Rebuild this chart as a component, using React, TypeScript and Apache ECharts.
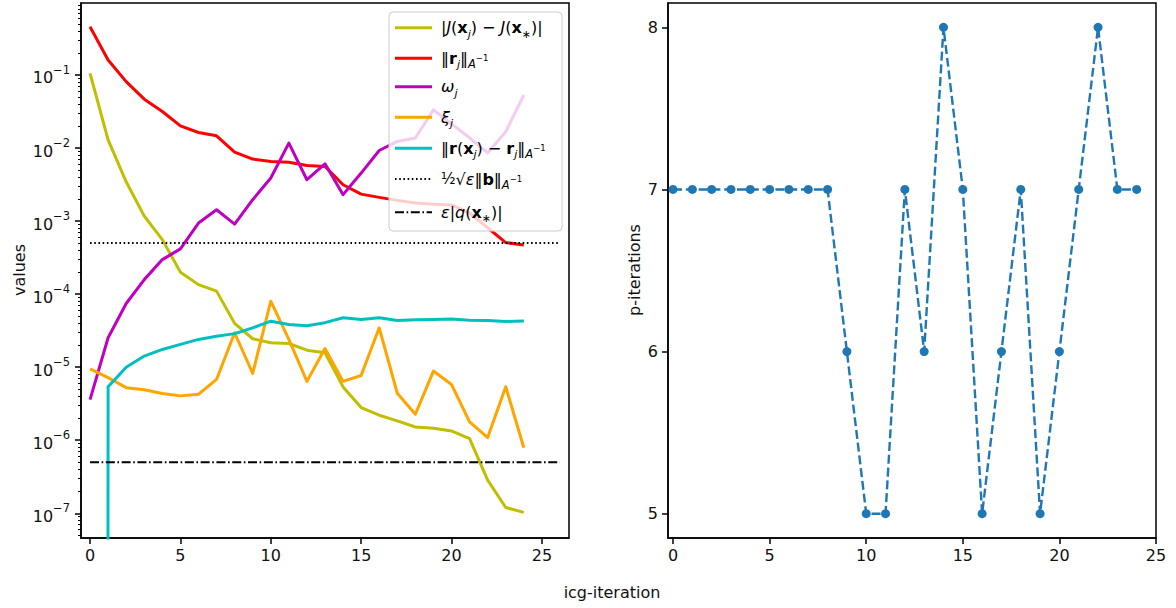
import React, { useEffect, useRef } from "react";
import * as echarts from "echarts";

// ---------- data ----------
const iterations = [0, 1, 2, 3, 4, 5, 6, 7, 8, 9, 10, 11, 12, 13, 14, 15, 16, 17, 18, 19, 20, 21, 22, 23, 24];

const jError = [0.105, 0.0129, 0.00345, 0.00117, 0.000557, 0.0002, 0.000135, 0.00011, 3.98e-5, 2.45e-5, 2.16e-5, 2.11e-5, 1.71e-5, 1.58e-5, 5.37e-6, 2.8e-6, 2.2e-6, 1.84e-6, 1.52e-6, 1.46e-6, 1.34e-6, 1.05e-6, 2.84e-7, 1.2e-7, 1.03e-7];
const residualNorm = [0.457, 0.16, 0.081, 0.0466, 0.0316, 0.0201, 0.0163, 0.0147, 0.0088, 0.00705, 0.00654, 0.0064, 0.00577, 0.0056, 0.00314, 0.00234, 0.00211, 0.00192, 0.00177, 0.0017, 0.00166, 0.00129, 0.00081, 0.000508, 0.00047];
const omega = [3.6e-6, 2.53e-5, 7.45e-5, 1.58e-4, 2.97e-4, 4.16e-4, 9.4e-4, 1.43e-3, 9.1e-4, 1.96e-3, 3.88e-3, 0.01166, 0.00368, 0.00608, 0.0023, 0.00454, 0.00925, 0.0123, 0.0137, 0.0333, 0.0214, 0.0138, 0.0086, 0.0167, 0.0532];
const xi = [9.5e-6, 7.2e-6, 5.25e-6, 4.9e-6, 4.36e-6, 4.05e-6, 4.26e-6, 6.8e-6, 2.96e-5, 8.2e-6, 8.0e-5, 2.4e-5, 6.4e-6, 1.8e-5, 6.4e-6, 7.7e-6, 3.46e-5, 4.4e-6, 2.27e-6, 8.85e-6, 5.8e-6, 1.78e-6, 1.09e-6, 5.4e-6, 7.9e-7];
const residualGap = [0, 5.4e-6, 1.0e-5, 1.42e-5, 1.75e-5, 2.05e-5, 2.4e-5, 2.66e-5, 2.88e-5, 3.46e-5, 4.26e-5, 3.85e-5, 3.7e-5, 4.07e-5, 4.74e-5, 4.5e-5, 4.74e-5, 4.37e-5, 4.45e-5, 4.5e-5, 4.55e-5, 4.4e-5, 4.35e-5, 4.23e-5, 4.28e-5];
const toleranceB = 5e-4; // ½√ε‖b‖_{A^-1}
const toleranceQ = 5e-7; // ε|q(x*)|
const referenceSpan = [0, 26];

const pIterations = [7, 7, 7, 7, 7, 7, 7, 7, 7, 6, 5, 5, 7, 6, 8, 7, 5, 6, 7, 5, 6, 7, 8, 7, 7];

const logTickValues = [1e-7, 1e-6, 1e-5, 1e-4, 1e-3, 1e-2, 1e-1];
const xTickValues = [0, 5, 10, 15, 20, 25];
const pTickValues = [5, 6, 7, 8];

// ---------- styling ----------
const F = "DejaVu Sans";
const C_J = "#bfbf00";
const C_R = "#ff0000";
const C_W = "#bf00bf";
const C_XI = "#ffa500";
const C_GAP = "#00bfbf";
const C_P = "#1f77b4";
const DOTTED = [1.6, 2.6];
const DASHDOT = [9, 2.6, 1.6, 2.6];

const LOG_MIN = Math.pow(10, -7.338);
const LOG_MAX = Math.pow(10, -0.015);

const minorLogTicks: number[] = [];
for (let e = -8; e <= 0; e++) {
  for (let k = 2; k <= 9; k++) {
    const v = k * Math.pow(10, e);
    if (v > LOG_MIN && v < LOG_MAX) minorLogTicks.push(v);
  }
}

const pairs = (ys: number[]) => iterations.map((x, i) => [x, ys[i] > 0 ? ys[i] : 1e-300]);

const base = { fontFamily: F, fill: "#000" };
const richLegend = {
  n: { ...base, fontSize: 16, lineHeight: 24, verticalAlign: "middle" },
  i: { ...base, fontSize: 16, lineHeight: 24, fontStyle: "italic", verticalAlign: "middle" },
  b: { ...base, fontSize: 16, lineHeight: 24, fontWeight: "bold", verticalAlign: "middle" },
  sub: { ...base, fontSize: 11, lineHeight: 12, fontStyle: "italic", verticalAlign: "bottom" },
  subs: { ...base, fontSize: 11, lineHeight: 13, verticalAlign: "bottom" },
  subA: { ...base, fontSize: 11.5, lineHeight: 12, fontStyle: "italic", verticalAlign: "bottom" },
  supA: { ...base, fontSize: 8.5, lineHeight: 9, verticalAlign: "middle" },
  frac: { ...base, fontSize: 15, lineHeight: 24, verticalAlign: "middle" },
};

const legendRows = [
  { text: "{n||}{i|J}{n|(}{b|x}{sub|j}{n|) − }{i|J}{n|(}{b|x}{subs|∗}{n|)|}", color: C_J, dash: "solid" as any },
  { text: "{n|‖}{b|r}{sub|j}{n|‖}{subA|A}{supA|−1}", color: C_R, dash: "solid" as any },
  { text: "{i|ω}{sub|j}", color: C_W, dash: "solid" as any },
  { text: "{i|ξ}{sub|j}", color: C_XI, dash: "solid" as any },
  { text: "{n|‖}{b|r}{n|(}{b|x}{sub|j}{n|) − }{b|r}{sub|j}{n|‖}{subA|A}{supA|−1}", color: C_GAP, dash: "solid" as any },
  { text: "{frac|½}{n|√}{i|ε}{n|‖}{b|b}{n|‖}{subA|A}{supA|−1}", color: "#000", dash: DOTTED as any },
  { text: "{i|ε}{n||}{i|q}{n|(}{b|x}{subs|∗}{n|)|}", color: "#000", dash: DASHDOT as any },
];
const legendRowY = [27.7, 58.3, 86.7, 117.3, 148.3, 179, 212.3];

function buildLegend() {
  const els: any[] = [
    {
      type: "rect",
      z: 100,
      shape: { x: 389, y: 12, width: 173, height: 219, r: 4 },
      style: { fill: "rgba(255,255,255,0.8)", stroke: "#cccccc", lineWidth: 1 },
    },
  ];
  legendRows.forEach((row, i) => {
    const y = legendRowY[i];
    els.push({
      type: "line",
      z: 101,
      shape: { x1: 395, y1: y, x2: 432, y2: y },
      style: {
        stroke: row.color,
        lineWidth: row.dash === "solid" ? 3 : 2,
        lineDash: row.dash === "solid" ? null : row.dash,
      },
    });
    els.push({
      type: "text",
      z: 101,
      x: 441,
      y,
      style: { text: row.text, rich: richLegend, verticalAlign: "middle", align: "left", fontSize: 16, fontFamily: F, fill: "#000" },
    });
  });
  return els;
}

const axisLineStyle = { color: "#000", width: 1.5 };
const labelBase = { fontSize: 16, fontFamily: F, color: "#111" };

export default function App() {
  const ref = useRef<HTMLDivElement>(null);
  useEffect(() => {
    if (!ref.current) return;
    const chart = echarts.init(ref.current, null, { renderer: "svg" });
    const option: any = {
      animation: false,
      backgroundColor: "#fff",
      grid: [
        { left: 81, top: 3, width: 488, height: 535, show: true, borderColor: "#000", borderWidth: 1.5, backgroundColor: "transparent" },
        { left: 668, top: 3, width: 488, height: 535, show: true, borderColor: "#000", borderWidth: 1.5, backgroundColor: "transparent" },
      ],
      xAxis: [
        {
          type: "value", gridIndex: 0, min: -0.5, max: 26.5,
          axisLine: { show: true, onZero: false, lineStyle: axisLineStyle },
          axisTick: { show: true, length: 6, lineStyle: axisLineStyle, customValues: xTickValues },
          axisLabel: { ...labelBase, margin: 9, customValues: xTickValues },
          splitLine: { show: false },
        },
        {
          type: "value", gridIndex: 1, min: -0.26, max: 25,
          axisLine: { show: true, onZero: false, lineStyle: axisLineStyle },
          axisTick: { show: true, length: 6, lineStyle: axisLineStyle, customValues: xTickValues },
          axisLabel: { ...labelBase, margin: 9, customValues: xTickValues },
          splitLine: { show: false },
        },
      ],
      yAxis: [
        {
          type: "log", logBase: 10, gridIndex: 0, min: LOG_MIN, max: LOG_MAX, position: "left",
          axisLine: { show: true, onZero: false, lineStyle: axisLineStyle },
          axisTick: { show: true, length: 6, lineStyle: axisLineStyle, customValues: logTickValues },
          axisLabel: {
            ...labelBase,
            margin: 11,
            customValues: logTickValues,
            formatter: (v: number) => {
              const e = Math.round(Math.log10(v));
              return `{b|10}{s|${e < 0 ? "−" + -e : e}}`;
            },
            rich: {
              b: { fontSize: 16, fontFamily: F, color: "#111", lineHeight: 22, verticalAlign: "bottom" },
              s: { fontSize: 11.5, fontFamily: F, color: "#111", lineHeight: 12, verticalAlign: "top" },
            },
          },
          splitLine: { show: false },
        },
        {
          type: "log", logBase: 10, gridIndex: 0, min: LOG_MIN, max: LOG_MAX, position: "left", offset: 0,
          axisLine: { show: false, onZero: false },
          axisTick: { show: true, length: 3, lineStyle: { color: "#000", width: 1 }, customValues: minorLogTicks },
          axisLabel: { show: false },
          splitLine: { show: false },
        },
        {
          type: "value", gridIndex: 1, min: 4.85, max: 8.15,
          axisLine: { show: true, onZero: false, lineStyle: axisLineStyle },
          axisTick: { show: true, length: 6, lineStyle: axisLineStyle, customValues: pTickValues },
          axisLabel: { ...labelBase, margin: 10, customValues: pTickValues },
          splitLine: { show: false },
        },
      ],
      series: [
        { name: "J", type: "line", xAxisIndex: 0, yAxisIndex: 0, data: pairs(jError), symbol: "none", lineStyle: { color: C_J, width: 3, join: "round" }, itemStyle: { color: C_J } },
        { name: "r", type: "line", xAxisIndex: 0, yAxisIndex: 0, data: pairs(residualNorm), symbol: "none", lineStyle: { color: C_R, width: 3, join: "round" }, itemStyle: { color: C_R } },
        { name: "omega", type: "line", xAxisIndex: 0, yAxisIndex: 0, data: pairs(omega), symbol: "none", lineStyle: { color: C_W, width: 3, join: "round" }, itemStyle: { color: C_W } },
        { name: "xi", type: "line", xAxisIndex: 0, yAxisIndex: 0, data: pairs(xi), symbol: "none", lineStyle: { color: C_XI, width: 3, join: "round" }, itemStyle: { color: C_XI } },
        { name: "gap", type: "line", xAxisIndex: 0, yAxisIndex: 0, data: pairs(residualGap), symbol: "none", clip: true, lineStyle: { color: C_GAP, width: 3, join: "round" }, itemStyle: { color: C_GAP } },
        { name: "tolB", type: "line", xAxisIndex: 0, yAxisIndex: 0, data: referenceSpan.map((x) => [x, toleranceB]), symbol: "none", lineStyle: { color: "#000", width: 2, type: DOTTED } },
        { name: "tolQ", type: "line", xAxisIndex: 0, yAxisIndex: 0, data: referenceSpan.map((x) => [x, toleranceQ]), symbol: "none", lineStyle: { color: "#000", width: 2, type: DASHDOT } },
        {
          name: "p", type: "line", xAxisIndex: 1, yAxisIndex: 2, data: iterations.map((x, i) => [x, pIterations[i]]),
          symbol: "circle", symbolSize: 9, showSymbol: true,
          lineStyle: { color: C_P, width: 2.4, type: [9, 3.8] }, itemStyle: { color: C_P },
        },
      ],
      graphic: [
        { type: "text", x: 19, y: 270, rotation: Math.PI / 2, style: { text: "values", fontSize: 16, fontFamily: F, fill: "#111", align: "center", verticalAlign: "middle" } },
        { type: "text", x: 634, y: 270, rotation: Math.PI / 2, style: { text: "p-iterations", fontSize: 16, fontFamily: F, fill: "#111", align: "center", verticalAlign: "middle" } },
        { type: "text", x: 612, y: 592, style: { text: "icg-iteration", fontSize: 16, fontFamily: F, fill: "#111", align: "center", verticalAlign: "middle" } },
        ...buildLegend(),
      ],
    };
    chart.setOption(option);
    return () => chart.dispose();
  }, []);
  return <div ref={ref} style={{ position: "fixed", left: 0, top: 0, width: 1176, height: 608 }} />;
}
